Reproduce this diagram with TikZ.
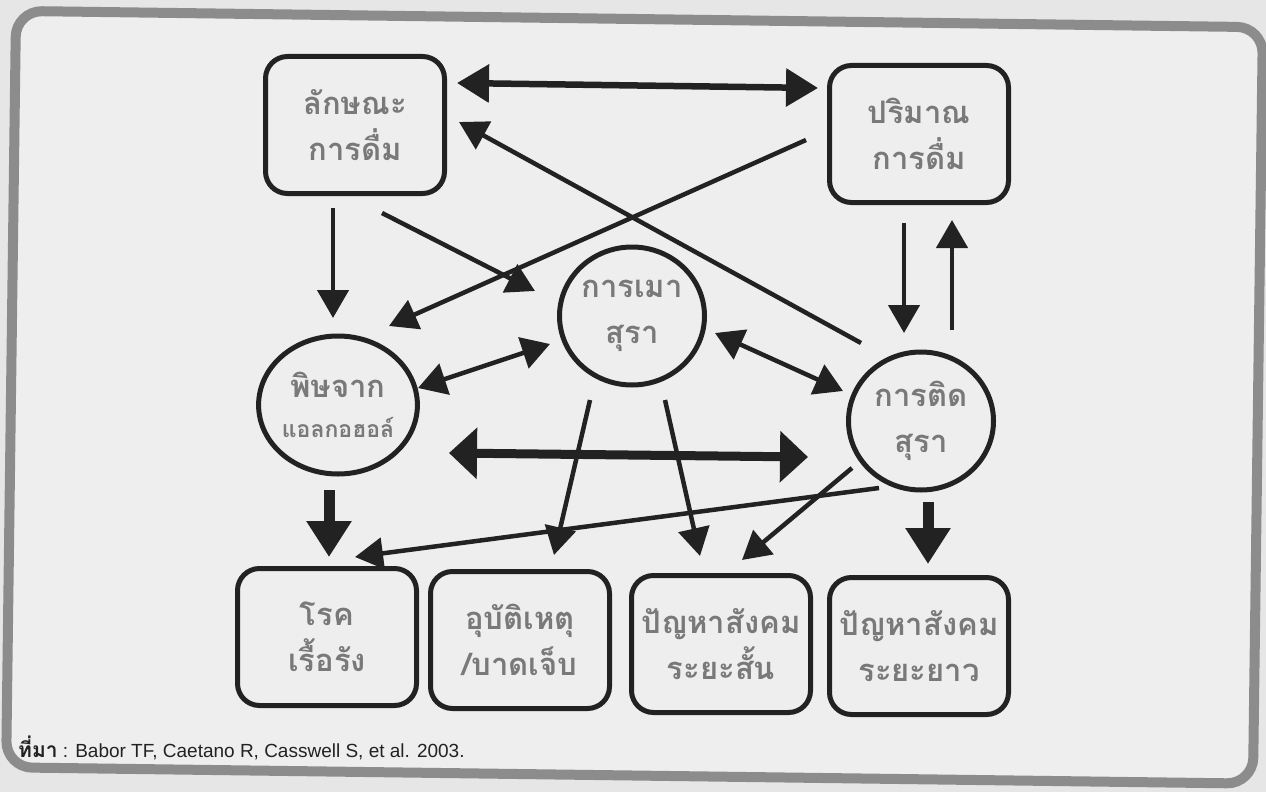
\documentclass[tikz,border=0pt]{standalone}
\usepackage{fontspec}
\setmainfont{Liberation Sans}
\newfontfamily\thai[Script=Thai]{Loma}
\usetikzlibrary{arrows.meta,shapes.geometric,calc}
\definecolor{ink}{HTML}{222222}
\definecolor{txtgray}{HTML}{797979}
\definecolor{bggray}{HTML}{E6E6E6}
\definecolor{innergray}{HTML}{EEEEEE}
\definecolor{framegray}{HTML}{8C8C8C}
\begin{document}
\begin{tikzpicture}[x=1pt,y=-1pt,
  lbl/.style={text=txtgray, align=center, font=\thai\bfseries\fontsize{31}{46}\selectfont},
  box/.style={lbl, draw=ink, line width=5pt, rounded corners=22pt,
    minimum width=179pt, minimum height=137pt, inner sep=0pt},
  circ/.style={lbl, ellipse, draw=ink, line width=5pt,
    minimum width=145pt, minimum height=138pt, inner sep=0pt},
  arr/.style={draw=ink, line width=4.5pt, -{Triangle[length=28pt,width=31pt]}},
  dbl/.style={draw=ink, line width=4.5pt,
    {Triangle[length=28pt,width=32pt]}-{Triangle[length=28pt,width=32pt]}},
  dbltop/.style={draw=ink, line width=6.5pt,
    {Triangle[length=32pt,width=37pt]}-{Triangle[length=32pt,width=37pt]}},
  dblthick/.style={draw=ink, line width=9pt,
    {Triangle[length=28pt,width=50pt]}-{Triangle[length=28pt,width=50pt]}},
  thickarr/.style={draw=ink, line width=11pt, -{Triangle[length=36pt,width=43pt]}}
]
\useasboundingbox (0,0) rectangle (1266,792);
\fill[bggray] (0,0) rectangle (1266,792);
\draw[framegray, fill=innergray, line width=10pt, rounded corners=26pt,
  rotate around={-0.75:(634,397)}] (11,19) rectangle (1258,775.5);

\node[box]  (A) at (355,125) {ลักษณะ\\การดื่ม};
\node[box]  (B) at (919,134) {ปริมาณ\\การดื่ม};
\node[circ] (C) at (632,316) {การเมา\\สุรา};
\node[circ] (D) at (338,405) {พิษจาก\\[-6pt]{\fontsize{23}{30}\selectfont แอลกอฮอล์}};
\node[circ] (E) at (921,421) {การติด\\สุรา};
\node[box]  (F) at (327,637) {โรค\\เรื้อรัง};
\node[box]  (G) at (520,640) {อุบัติเหตุ\\/บาดเจ็บ};
\node[box]  (H) at (721,644) {ปัญหาสังคม\\ระยะสั้น};
\node[box]  (I) at (919,646) {ปัญหาสังคม\\ระยะยาว};

\draw[dbltop] ($(A)+(102,-42)$) -- ($(B)+(-101,-46)$);
\draw[arr] ($(E)+(-60,-78)$) -- ($(A)+(104,-3)$);
\draw[arr] ($(B)+(-113,6)$) -- ($(D)+(51,-79)$);
\draw[arr] ($(A)+(27,88)$) -- ($(C)+(-97,-25)$);
\draw[arr] ($(A)+(-22,83)$) -- ($(D)+(-5,-87)$);
\draw[dbl] ($(D)+(80,-17)$) -- ($(C)+(-82,28)$);
\draw[dbl] ($(C)+(83,17)$) -- ($(E)+(-78,-30)$);
\draw[dblthick] ($(D)+(111,48)$) -- ($(E)+(-113,36)$);
\draw[arr] ($(C)+(-42,84)$) -- ($(G)+(34,-85)$);
\draw[arr] ($(C)+(33,84)$) -- ($(H)+(-21,-88)$);
\draw[arr] ($(E)+(-69,47)$) -- ($(H)+(21,-84)$);
\draw[arr] ($(E)+(-42,67)$) -- ($(F)+(28,-80)$);
\draw[thickarr] ($(D)+(-9,85)$) -- ($(F)+(2,-80)$);
\draw[thickarr] ($(E)+(7,81)$) -- ($(I)+(9,-82)$);
\draw[arr] ($(B)+(-15,89)$) -- ($(E)+(-17,-88)$);
\draw[arr] ($(E)+(31,-91)$) -- ($(B)+(33,86)$);

\node[anchor=base west, text=ink, font=\fontsize{19}{22}\selectfont, inner sep=0pt]
  (src) at (18,757) {{\thai\bfseries\fontsize{21}{22}\selectfont ที่มา} : Babor TF, Caetano R, Casswell S, et al. 2003.};
\end{tikzpicture}
\end{document}
